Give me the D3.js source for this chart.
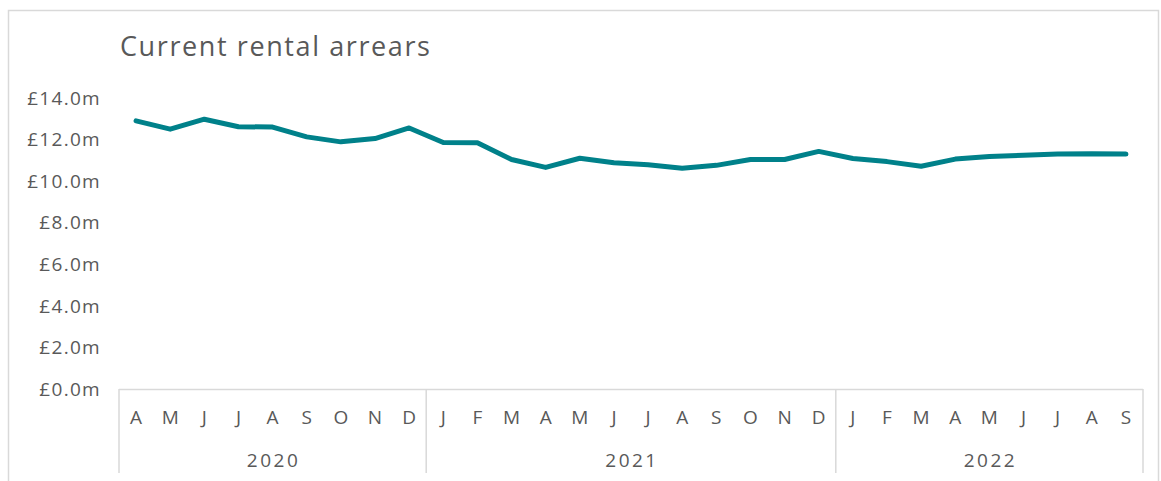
<!DOCTYPE html>
<html>
<head>
<meta charset="utf-8">
<script src="https://cdn.jsdelivr.net/npm/d3@7"></script>
<style>
  body { margin: 0; background: #fff; }
  svg { display: block; font-family: "Open Sans", "Noto Sans", sans-serif; }
</style>
</head>
<body>
<div id="chart"></div>
<script>
// months Apr 2020 - Sep 2022
const months = ["A","M","J","J","A","S","O","N","D",
  "J","F","M","A","M","J","J","A","S","O","N","D",
  "J","F","M","A","M","J","J","A","S"];
const years = ["2020", "2021", "2022"];
const yearCounts = [9, 12, 9];
// arrears, £m
const arrears = [12.9, 12.5, 12.98, 12.62, 12.6, 12.13, 11.89, 12.05, 12.56,
  11.86, 11.85, 11.04, 10.66, 11.1, 10.88, 10.79, 10.62, 10.76, 11.04, 11.04, 11.43,
  11.09, 10.94, 10.72, 11.06, 11.18, 11.25, 11.3, 11.32, 11.3];
const yTicks = [0, 2, 4, 6, 8, 10, 12, 14];

const W = 1161, H = 481;
const svg = d3.select("#chart").append("svg")
  .attr("width", W).attr("height", H);

// outer frame
svg.append("rect")
  .attr("x", 8.5).attr("y", 10.5)
  .attr("width", 1150).attr("height", 500)
  .attr("fill", "none").attr("stroke", "#d9d9d9").attr("stroke-width", 1.5);

svg.append("text")
  .attr("x", 120).attr("y", 56)
  .attr("font-size", 27).attr("fill", "#595959")
  .attr("letter-spacing", 1.6)
  .text("Current rental arrears");

const x = d3.scaleBand()
  .domain(d3.range(months.length))
  .range([119, 1143]);

const y = d3.scaleLinear()
  .domain([0, 14])
  .range([389, 98]);

// y labels
svg.selectAll(".ylab")
  .data(yTicks)
  .enter().append("text")
  .attr("class", "ylab")
  .attr("x", 101)
  .attr("y", d => y(d))
  .attr("dy", "0.35em")
  .attr("text-anchor", "end")
  .attr("font-size", 19).attr("fill", "#595959")
  .attr("letter-spacing", 1.3)
  .text(d => "£" + d.toFixed(1) + "m");

// x axis line
svg.append("line")
  .attr("x1", x.range()[0]).attr("x2", x.range()[1])
  .attr("y1", y(0) + 0.5).attr("y2", y(0) + 0.5)
  .attr("stroke", "#d9d9d9").attr("stroke-width", 1.5);

// group separators
const bounds = [0];
yearCounts.forEach((c, i) => bounds.push(bounds[i] + c));
svg.selectAll(".sep")
  .data(bounds)
  .enter().append("line")
  .attr("class", "sep")
  .attr("x1", d => x.range()[0] + d * x.step())
  .attr("x2", d => x.range()[0] + d * x.step())
  .attr("y1", y(0)).attr("y2", 473)
  .attr("stroke", "#d9d9d9").attr("stroke-width", 1.5);

svg.selectAll(".mlab")
  .data(months)
  .enter().append("text")
  .attr("class", "mlab")
  .attr("x", (d, i) => x(i) + x.bandwidth() / 2)
  .attr("y", 424)
  .attr("text-anchor", "middle")
  .attr("font-size", 19).attr("fill", "#595959")
  .text(d => d);

svg.selectAll(".yrlab")
  .data(years)
  .enter().append("text")
  .attr("class", "yrlab")
  .attr("x", (d, i) => x.range()[0] + (bounds[i] + yearCounts[i] / 2) * x.step() + 1)
  .attr("y", 467)
  .attr("text-anchor", "middle")
  .attr("font-size", 19).attr("fill", "#595959")
  .attr("letter-spacing", 2.5)
  .text(d => d);

const line = d3.line()
  .x((d, i) => x(i) + x.bandwidth() / 2)
  .y(d => y(d));

svg.append("path")
  .datum(arrears)
  .attr("d", line)
  .attr("fill", "none")
  .attr("stroke", "#00818a")
  .attr("stroke-width", 5)
  .attr("stroke-linecap", "round")
  .attr("stroke-linejoin", "round");
</script>
</body>
</html>
